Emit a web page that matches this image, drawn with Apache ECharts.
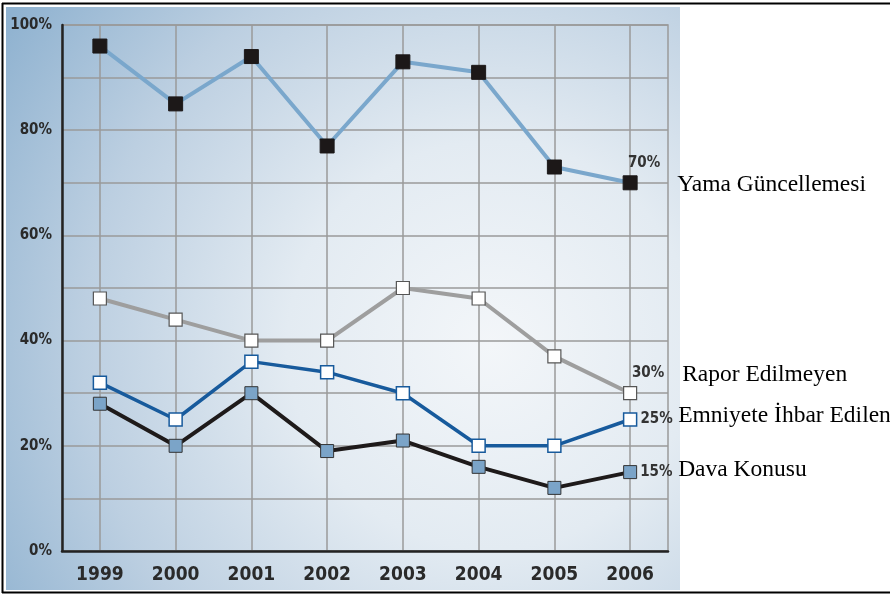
<!DOCTYPE html>
<html>
<head>
<meta charset="utf-8">
<script src="https://cdn.jsdelivr.net/npm/echarts@6/dist/echarts.min.js"></script>
<style>
  html, body { margin: 0; padding: 0; background: #fff; }
  #main { width: 890px; height: 595px; }
</style>
</head>
<body>
<div id="main"></div>
<script>
// yıllar
var years = ['1999', '2000', '2001', '2002', '2003', '2004', '2005', '2006'];
// seriler (%)
var yama = [96, 85, 94, 77, 93, 91, 73, 70];
var rapor = [48, 44, 40, 40, 50, 48, 37, 30];
var emniyet = [32, 25, 36, 34, 30, 20, 20, 25];
var dava = [28, 20, 30, 19, 21, 16, 12, 15];
var yTicks = [0, 20, 40, 60, 80, 100];

var narrow = "'Liberation Sans Narrow', 'DejaVu Sans Condensed', sans-serif";
var serif = "'Liberation Serif', 'DejaVu Serif', serif";

// son noktaya yüzde etiketi
function withEndPct(arr, pos, offset) {
    return arr.map(function (v, i) {
        if (i !== arr.length - 1) return v;
        return {
            value: v,
            label: {
                show: true, position: pos, distance: 3, offset: offset,
                formatter: v + '%', fontFamily: narrow, fontSize: 15,
                fontWeight: 'bold', color: '#333'
            }
        };
    });
}

function nameLabel(name, offset) {
    return {
        show: true, formatter: name, distance: 0, offset: offset,
        fontFamily: serif, fontSize: 23.5, color: '#000'
    };
}

var myChart = echarts.init(document.getElementById('main'));
var option = {
    animation: false,
    graphic: [
        {
            type: 'rect', z: -10, silent: true,
            shape: { x: 6, y: 7, width: 674, height: 583 },
            style: {
                fill: new echarts.graphic.RadialGradient(0.72, 0.58, 1.0, [
                    { offset: 0, color: '#f3f6f9' },
                    { offset: 0.35, color: '#e3ebf2' },
                    { offset: 0.7, color: '#bccfe1' },
                    { offset: 1, color: '#8fb2d0' }
                ])
            }
        },
        { type: 'line', z: 10, shape: { x1: 2, y1: 3.5, x2: 890, y2: 3.5 }, style: { stroke: '#000', lineWidth: 2 } },
        { type: 'line', z: 10, shape: { x1: 2.5, y1: 3, x2: 2.5, y2: 593 }, style: { stroke: '#000', lineWidth: 2 } },
        { type: 'line', z: 10, shape: { x1: 2, y1: 592.5, x2: 890, y2: 592.5 }, style: { stroke: '#000', lineWidth: 2 } }
    ],
    grid: {
        left: 62, right: 222, top: 25, bottom: 44,
        show: true, borderColor: '#9a9a9a', borderWidth: 1.5, backgroundColor: 'transparent'
    },
    xAxis: {
        type: 'category',
        data: years,
        boundaryGap: true,
        axisLine: { lineStyle: { color: '#222', width: 2.5 } },
        axisTick: { show: false },
        axisLabel: { fontFamily: narrow, fontSize: 19, fontWeight: 'bold', color: '#2a2a2a', margin: 15 },
        splitLine: { show: true, alignWithLabel: true, lineStyle: { color: '#9a9a9a', width: 1.5 } }
    },
    yAxis: {
        type: 'value',
        min: 0, max: 100, interval: 10,
        axisLine: { show: true, lineStyle: { color: '#222', width: 2.5 } },
        axisTick: { show: false },
        axisLabel: {
            fontFamily: narrow, fontSize: 15, fontWeight: 'bold', color: '#2a2a2a', margin: 10,
            formatter: function (v) { return yTicks.indexOf(v) >= 0 ? v + '%' : ''; }
        },
        splitLine: { lineStyle: { color: '#9a9a9a', width: 1.5 } }
    },
    series: [
        {
            name: 'Yama Güncellemesi',
            type: 'line',
            data: withEndPct(yama, 'top', [14, -2]),
            symbol: 'rect', symbolSize: 14,
            lineStyle: { color: '#7aa7cc', width: 4 },
            itemStyle: { color: '#1c1818', borderColor: '#1c1818' },
            endLabel: nameLabel('Yama Güncellemesi', [47, 2])
        },
        {
            name: 'Rapor Edilmeyen',
            type: 'line',
            data: withEndPct(rapor, 'top', [18, -2]),
            symbol: 'rect', symbolSize: 13,
            lineStyle: { color: '#9e9e9e', width: 4 },
            itemStyle: { color: '#fff', borderColor: '#555', borderWidth: 1.2 },
            endLabel: nameLabel('Rapor Edilmeyen', [52, -18])
        },
        {
            name: 'Emniyete İhbar Edilen',
            type: 'line',
            data: withEndPct(emniyet, 'right', [0, 0]),
            symbol: 'rect', symbolSize: 13,
            lineStyle: { color: '#175a9c', width: 3.5 },
            itemStyle: { color: '#fff', borderColor: '#175a9c', borderWidth: 1.5 },
            endLabel: nameLabel('Emniyete İhbar Edilen', [48, -4])
        },
        {
            name: 'Dava Konusu',
            type: 'line',
            data: withEndPct(dava, 'right', [0, 0]),
            symbol: 'rect', symbolSize: 13,
            lineStyle: { color: '#1e1a1a', width: 4 },
            itemStyle: { color: '#7ba4c8', borderColor: '#333', borderWidth: 1 },
            endLabel: nameLabel('Dava Konusu', [48, -2])
        }
    ]
};
myChart.setOption(option);
</script>
</body>
</html>
